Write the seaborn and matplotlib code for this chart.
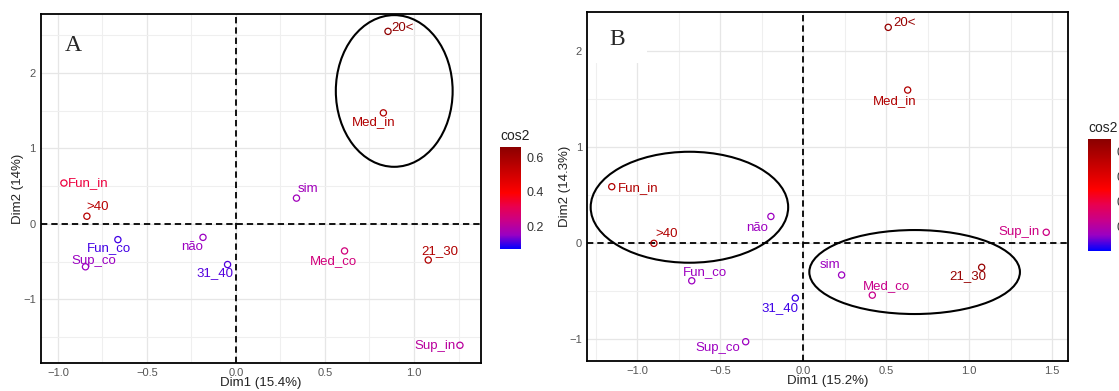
import pandas as pd
import seaborn as sns
import matplotlib.pyplot as plt
import matplotlib.cm as cm
from matplotlib.colors import LinearSegmentedColormap, Normalize
from matplotlib.patches import Ellipse, Rectangle
from matplotlib.ticker import MultipleLocator

# categories (same order in both panels)
categories = ["Fun_in", ">40", "Fun_co", "Sup_co", "não", "31_40",
              "sim", "Med_co", "21_30", "Sup_in", "20<", "Med_in"]

# panel A
a_dim1 = [-0.966, -0.837, -0.663, -0.845, -0.185, -0.047, 0.34, 0.61, 1.08, 1.258, 0.854, 0.828]
a_dim2 = [0.54, 0.10, -0.21, -0.57, -0.18, -0.54, 0.34, -0.36, -0.48, -1.61, 2.55, 1.47]
a_cos2 = [0.33, 0.56, 0.10, 0.15, 0.15, 0.11, 0.16, 0.25, 0.575, 0.20, 0.65, 0.575]

# panel B
b_dim1 = [-1.154, -0.90, -0.672, -0.347, -0.195, -0.048, 0.231, 0.416, 1.075, 1.464, 0.512, 0.629]
b_dim2 = [0.59, 0.0, -0.39, -1.025, 0.28, -0.57, -0.33, -0.54, -0.25, 0.115, 2.25, 1.597]
b_cos2 = [0.77, 0.77, 0.14, 0.14, 0.14, 0.06, 0.14, 0.25, 0.86, 0.27, 0.86, 0.77]

# label offsets in pixels (dx right, dy down), like ggrepel placed them
a_offsets = [(24, 0.5), (11, -9), (-8.5, 8), (8.5, -6), (-11, 10), (-13, 8.5),
             (11, -9), (-11.5, 10), (12, -8.5), (-24.5, 1), (15, -3.5), (-10, 9.5)]
b_offsets = [(26, 1), (12.5, -9), (13, -8.5), (-28, 6), (-13.5, 11.5), (-15, 10),
             (-12, -10), (14, -9), (-14, 9), (-27, 0), (16, -4), (-13, 11)]

sns.set_style("white")
plt.rcParams['font.family'] = ['Liberation Sans', 'DejaVu Sans']

# blue -> red -> darkred, blue/red leg mixed in Lab like ggplot does
cos2_cmap = LinearSegmentedColormap.from_list(
    "cos2", [(0, "#0000FF"), (0.1375, "#9A00C3"), (0.275, "#C90089"),
             (0.4125, "#E80050"), (0.55, "#FF0000"), (1, "#8B0000")])


def draw_panel(fig, ax, cax, df, norm, offsets, ellipses, xlabel, ylabel,
               xlim, ylim, cbar_ticks):
    ax.set_xlim(xlim)
    ax.set_ylim(ylim)
    ax.xaxis.set_major_locator(MultipleLocator(0.5))
    ax.xaxis.set_minor_locator(MultipleLocator(0.25))
    ax.yaxis.set_major_locator(MultipleLocator(1))
    ax.yaxis.set_minor_locator(MultipleLocator(0.5))
    ax.grid(which='major', color='#e6e6e6', lw=0.9)
    ax.grid(which='minor', color='#efefef', lw=0.8)
    ax.set_axisbelow(True)
    ax.tick_params(which='minor', length=0)

    ax.axhline(0, color='black', ls=(0, (3.5, 2.2)), lw=1.3, zorder=1)
    ax.axvline(0, color='black', ls=(0, (3.5, 2.2)), lw=1.3, zorder=1)

    sns.scatterplot(data=df, x='dim1', y='dim2', hue='cos2', palette=cos2_cmap,
                    hue_norm=norm, s=20, linewidth=0.9, legend=False, ax=ax, zorder=3)
    pts = ax.collections[-1]
    pts.set_edgecolors(pts.get_facecolors())
    pts.set_facecolors('none')

    for (_, row), (dx, dy) in zip(df.iterrows(), offsets):
        ax.annotate(row['cat'], (row['dim1'], row['dim2']), xytext=(dx, -dy),
                    textcoords='offset pixels', ha='center', va='center',
                    fontsize=9.5, color=cos2_cmap(norm(row['cos2'])), zorder=3)

    for (cx, cy, w, h) in ellipses:
        ax.add_patch(Ellipse((cx, cy), w, h, fill=False, ec='black', lw=1.5, zorder=4))

    for s in ax.spines.values():
        s.set_color('black')
        s.set_linewidth(1.3)
    ax.tick_params(which='major', labelsize=8, labelcolor='#555555', length=2.5,
                   width=0.8, pad=1.2, color='#333333')
    ax.set_xlabel(xlabel, fontsize=9.5, labelpad=-1, color='#222222')
    ax.set_ylabel(ylabel, fontsize=9.5, labelpad=-1, color='#222222')

    cbar = fig.colorbar(cm.ScalarMappable(norm=norm, cmap=cos2_cmap), cax=cax,
                        ticks=cbar_ticks)
    cbar.outline.set_visible(False)
    cax.yaxis.set_ticks_position('both')
    cax.tick_params(direction='in', color='white', length=4, width=0.8,
                    labelsize=9, labelcolor='#333333', pad=4, labelleft=False,
                    labelright=True)
    cax.set_title('cos2', loc='left', fontsize=10, pad=5, color='#222222')


fig = plt.figure(figsize=(11.19, 3.91), dpi=100)

ax_a = fig.add_axes([0.0366, 0.0716, 0.3932, 0.8926])
cax_a = fig.add_axes([0.4468, 0.3624, 0.0185, 0.2624])
ax_b = fig.add_axes([0.5246, 0.0767, 0.4298, 0.8926])
cax_b = fig.add_axes([0.9726, 0.3588, 0.02, 0.2849])

df_a = pd.DataFrame({'cat': categories, 'dim1': a_dim1, 'dim2': a_dim2, 'cos2': a_cos2})
df_b = pd.DataFrame({'cat': categories, 'dim1': b_dim1, 'dim2': b_dim2, 'cos2': b_cos2})

draw_panel(fig, ax_a, cax_a, df_a, Normalize(0.064, 0.664), a_offsets,
           [(0.889, 1.76, 0.656, 2.01)],
           "Dim1 (15.4%)", "Dim2 (14%)", (-1.095, 1.376), (-1.845, 2.78),
           [0.2, 0.4, 0.6])
draw_panel(fig, ax_b, cax_b, df_b, Normalize(0.01, 0.9), b_offsets,
           [(-0.686, 0.376, 1.19, 1.156), (0.671, -0.299, 1.269, 0.875)],
           "Dim1 (15.2%)", "Dim2 (14.3%)", (-1.303, 1.595), (-1.226, 2.41),
           [0.2, 0.4, 0.6, 0.8])

ax_a.text(0.073, 0.911, "A", transform=ax_a.transAxes, fontsize=17,
          family='Liberation Serif', ha='center', va='center', zorder=5)
# panel B label sits on a white patch that hides the grid behind it
ax_b.add_patch(Rectangle((0, 0.854), 0.125, 0.146, transform=ax_b.transAxes,
                         fc='white', ec='none', zorder=2))
ax_b.text(0.062, 0.92, "B", transform=ax_b.transAxes, fontsize=17,
          family='Liberation Serif', ha='center', va='center', zorder=5)

fig.savefig("out.png", dpi=100)
